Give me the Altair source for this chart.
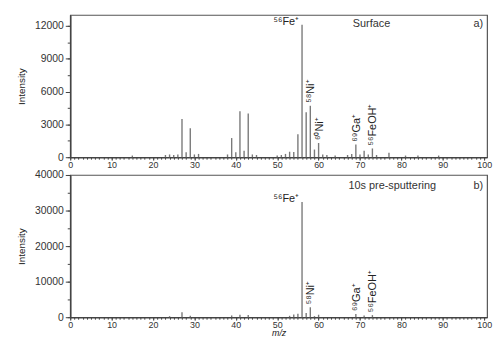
import altair as alt
import pandas as pd

# ---- data ----
top_mz = [15, 23, 24, 25, 26, 27, 28, 29, 30, 31, 38, 39, 40, 41, 42, 43, 44, 45,
          50, 51, 52, 53, 54, 55, 56, 57, 58, 59, 60, 61, 62, 64, 67, 68, 69, 70,
          71, 72, 73, 74, 77, 81, 84, 89]
top_int = [150, 200, 250, 200, 250, 3500, 450, 2650, 250, 300, 250, 1750, 450, 4200,
           600, 4000, 250, 200, 150, 200, 300, 500, 480, 2100, 12100, 4100, 4700, 700,
           1300, 250, 200, 150, 200, 300, 1150, 250, 600, 250, 800, 200, 400, 150, 150, 150]

bot_mz = [24, 27, 29, 39, 41, 43, 53, 54, 55, 56, 57, 58, 59, 60, 69, 71, 73]
bot_int = [300, 1400, 400, 500, 700, 600, 400, 800, 1000, 32400, 1200, 2800, 300,
           700, 900, 500, 600]

top_rot_mz = [58, 60, 69, 73]
top_rot_txt = ["⁵⁸Ni⁺", "⁶⁰Ni⁺", "⁶⁹Ga⁺", "⁵⁶FeOH⁺"]
bot_rot_mz = [58, 69, 73]
bot_rot_txt = ["⁵⁸Ni⁺", "⁶⁹Ga⁺", "⁵⁶FeOH⁺"]
fe_txt = "⁵⁶Fe⁺"

panel_titles = ["Surface", "10s pre-sputtering"]
panel_tags = ["a)", "b)"]
x_major = list(range(0, 101, 10))
x_minor = list(range(0, 101, 1))
top_major = [0, 3000, 6000, 9000, 12000]
top_minor = [0, 1500, 3000, 4500, 6000, 7500, 9000, 10500, 12000]
bot_major = [0, 10000, 20000, 30000, 40000]
bot_minor = [0, 5000, 10000, 15000, 20000, 25000, 30000, 35000, 40000]
top_ymax = 13000
bot_ymax = 40000

FONT = "Liberation Sans"
BAR = "#7a7a7a"
AX = "#444444"
PH = 144
PW = 422


def panel(mz, inten, rot_mz, rot_txt, ymax, ymaj, ymin, title, tag, show_title,
          title_x, title_y):
    df = pd.DataFrame({"mz": mz, "intensity": inten})
    lookup = dict(zip(mz, inten))
    lab = pd.DataFrame({"mz": rot_mz, "txt": rot_txt,
                        "intensity": [lookup[m] for m in rot_mz]})
    fe = pd.DataFrame({"mz": [56], "txt": [fe_txt], "intensity": [lookup[56]]})
    ann = pd.DataFrame({"txt": [title, tag]})

    xs = alt.Scale(domain=[0, 100.7], nice=False)
    ys = alt.Scale(domain=[0, ymax], nice=False)

    x = alt.X("mz:Q", scale=xs,
              axis=alt.Axis(values=x_major, tickSize=3, orient="bottom",
                            labelOverlap=False, grid=False, labelFlush=False,
                            labelPadding=0, labelFontSize=9,
                            title="m/z" if show_title else None,
                            titleFontStyle="italic", titleFontWeight="normal",
                            titleFontSize=9, titlePadding=0))
    y = alt.Y("intensity:Q", scale=ys,
              axis=alt.Axis(values=ymaj, tickSize=5, orient="left",
                            format="d", labelOverlap=False, grid=False,
                            title="Intensity", titleFontWeight="normal",
                            titleFontSize=10, titlePadding=8))

    bars = alt.Chart(df).mark_rule(color=BAR, strokeWidth=1.4).encode(
        x=x, y=y, y2=alt.datum(0))

    minor = alt.Chart(df).mark_rule(opacity=0).encode(
        x=alt.X("mz:Q", scale=xs,
                axis=alt.Axis(values=x_minor, tickSize=2, orient="bottom",
                              labels=False, domain=False, grid=False, title=None)),
        y=alt.Y("intensity:Q", scale=ys,
                axis=alt.Axis(values=ymin, tickSize=3, orient="left",
                              labels=False, domain=False, grid=False, title=None)),
    )

    xn = alt.X("mz:Q", scale=xs, axis=None)
    yn = alt.Y("intensity:Q", scale=ys, axis=None)

    rot = alt.Chart(lab).mark_text(angle=270, align="left", baseline="middle",
                                   dx=3, dy=1, font=FONT, fontSize=11,
                                   color="#222").encode(
        x=xn, y=yn, text="txt:N")

    fel = alt.Chart(fe).mark_text(align="right", baseline="middle", dx=-3, dy=-3,
                                  font=FONT, fontSize=11, color="#222").encode(
        x=xn, y=yn, text="txt:N")

    ttl = alt.Chart(ann).transform_filter(alt.datum.txt == title).mark_text(
        align="center", baseline="middle", font=FONT, fontSize=11, color="#333"
    ).encode(x=alt.value(title_x), y=alt.value(title_y), text="txt:N")

    tg = alt.Chart(ann).transform_filter(alt.datum.txt == tag).mark_text(
        align="right", baseline="middle", font=FONT, fontSize=11, color="#333"
    ).encode(x=alt.value(418), y=alt.value(title_y), text="txt:N")

    return alt.layer(bars, minor, rot, fel, ttl, tg).resolve_axis(
        x="independent", y="independent").properties(width=PW, height=PH)


top = panel(top_mz, top_int, top_rot_mz, top_rot_txt, top_ymax, top_major, top_minor,
            panel_titles[0], panel_tags[0], False, 305, 9)
bot = panel(bot_mz, bot_int, bot_rot_mz, bot_rot_txt, bot_ymax, bot_major, bot_minor,
            panel_titles[1], panel_tags[1], True, 326, 11)

chart = alt.vconcat(top, bot, spacing=18, bounds="flush").properties(
    padding={"left": 8, "top": 4, "right": 0, "bottom": -2}
).configure_view(stroke="#555555", strokeWidth=1.2).configure_axis(
    domainColor=AX, domainWidth=1.6, tickColor=AX, tickWidth=1,
    labelFont=FONT, titleFont=FONT, labelFontSize=10.5, labelColor="#333",
    titleColor="#222", labelPadding=2
)

chart.save("out.html", embed_options={"renderer": "svg", "actions": False})
